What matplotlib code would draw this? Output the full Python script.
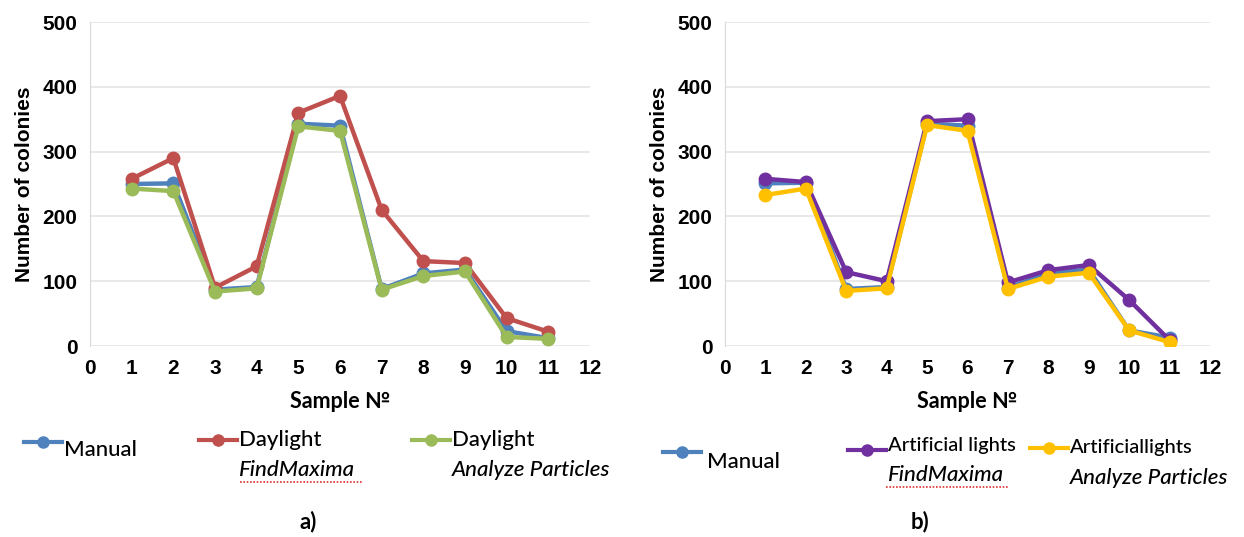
import matplotlib
matplotlib.use("Agg")
import matplotlib.pyplot as plt
from matplotlib.lines import Line2D

# sample numbers
samples = [1, 2, 3, 4, 5, 6, 7, 8, 9, 10, 11]

# panel a) daylight
manual_a = [250, 251, 87, 91, 343, 340, 88, 112, 118, 23, 12]
day_findmax = [258, 290, 90, 123, 360, 386, 210, 131, 128, 43, 22]
day_analyze = [243, 239, 84, 89, 339, 332, 87, 108, 115, 14, 11]

# panel b) artificial lights
manual_b = [251, 252, 88, 91, 343, 340, 90, 112, 118, 24, 13]
art_findmax = [258, 253, 114, 100, 347, 350, 98, 117, 125, 71, 9]
art_analyze = [233, 243, 85, 89, 341, 332, 88, 107, 113, 24, 6]

x_ticks = list(range(0, 13))
y_ticks = [0, 100, 200, 300, 400, 500]

BLUE = "#4F81BD"
RED = "#C0504D"
GREEN = "#9BBB59"
PURPLE = "#7030A0"
YELLOW = "#FFC000"

W, H = 1244, 537
fig = plt.figure(figsize=(W / 100, H / 100), dpi=100)


def px(x, y):
    return x / W, 1 - y / H


def make_axes(left, right, series):
    ax = fig.add_axes([left / W, 191 / H, (right - left) / W, 324 / H])
    for vals, col in series:
        ax.plot(samples, vals, color=col, lw=3.2, marker="o", markersize=9,
                solid_joinstyle="round")
    ax.set_xlim(0, 12)
    ax.set_ylim(0, 500)
    ax.set_xticks(x_ticks)
    ax.set_yticks(y_ticks)
    ax.grid(axis="y", color="#E4E4E4", lw=1.2)
    ax.set_axisbelow(True)
    for s in ["top", "right", "bottom"]:
        ax.spines[s].set_visible(False)
    ax.spines["left"].set_color("#D9D9D9")
    ax.tick_params(length=0, labelsize=15, pad=9)
    for lab in ax.get_xticklabels() + ax.get_yticklabels():
        lab.set_fontweight("bold")
        lab.set_fontfamily("Liberation Sans")
    ax.set_ylabel("Number of colonies", fontsize=15, fontweight="bold",
                  family="Liberation Sans", labelpad=6)
    ax.set_xlabel("Sample №", fontsize=15.5, fontweight="bold", family="Lato",
                  labelpad=10)
    return ax


ax1 = make_axes(90, 590, [(manual_a, BLUE), (day_findmax, RED), (day_analyze, GREEN)])
ax2 = make_axes(725, 1210, [(manual_b, BLUE), (art_findmax, PURPLE), (art_analyze, YELLOW)])


def legend_entry(x0, y0, col, line1, line2=None, dx=0, dy=0, fs1=16):
    xa, ya = px(x0, y0)
    xb, _ = px(x0 + 38, y0)
    fig.add_artist(Line2D([xa, xb], [ya, ya], color=col, lw=3))
    fig.add_artist(Line2D([(xa + xb) / 2], [ya], color=col, marker="o", markersize=8))
    tx, ty = px(x0 + 40 + dx, y0 + dy)
    fig.text(tx, ty, line1, fontsize=fs1, family="Lato", weight="medium",
             va="center", ha="left")
    if line2:
        tx2, ty2 = px(x0 + 40 + dx, y0 + dy + 30)
        fig.text(tx2, ty2, line2, fontsize=16, family="Lato", weight="medium",
                 style="italic", va="center", ha="left")


legend_entry(24, 442, BLUE, "Manual", dy=8)
legend_entry(199, 440, RED, "Daylight", "FindMaxima")
legend_entry(412, 440, GREEN, "Daylight", "Analyze Particles")

legend_entry(663, 452, BLUE, "Manual", dx=4, dy=10)
legend_entry(848, 450, PURPLE, "Artificial lights", "FindMaxima", dy=-5, fs1=14.5)
legend_entry(1030, 448, YELLOW, "Artificiallights", "Analyze Particles", fs1=14.5)

# spell-check squiggle under FindMaxima
for x0, x1, y in [(240, 362, 482), (886, 1008, 487)]:
    a, b = px(x0, y)
    c, _ = px(x1, y)
    fig.add_artist(Line2D([a, c], [b, b], color="#E03030", lw=1.2, ls=(0, (1, 1))))

fig.text(*px(308, 522), "a)", fontsize=16, fontweight="bold", family="Lato",
         ha="center", va="center")
fig.text(*px(920, 522), "b)", fontsize=16, fontweight="bold", family="Lato",
         ha="center", va="center")

fig.savefig("out.png", dpi=100)
